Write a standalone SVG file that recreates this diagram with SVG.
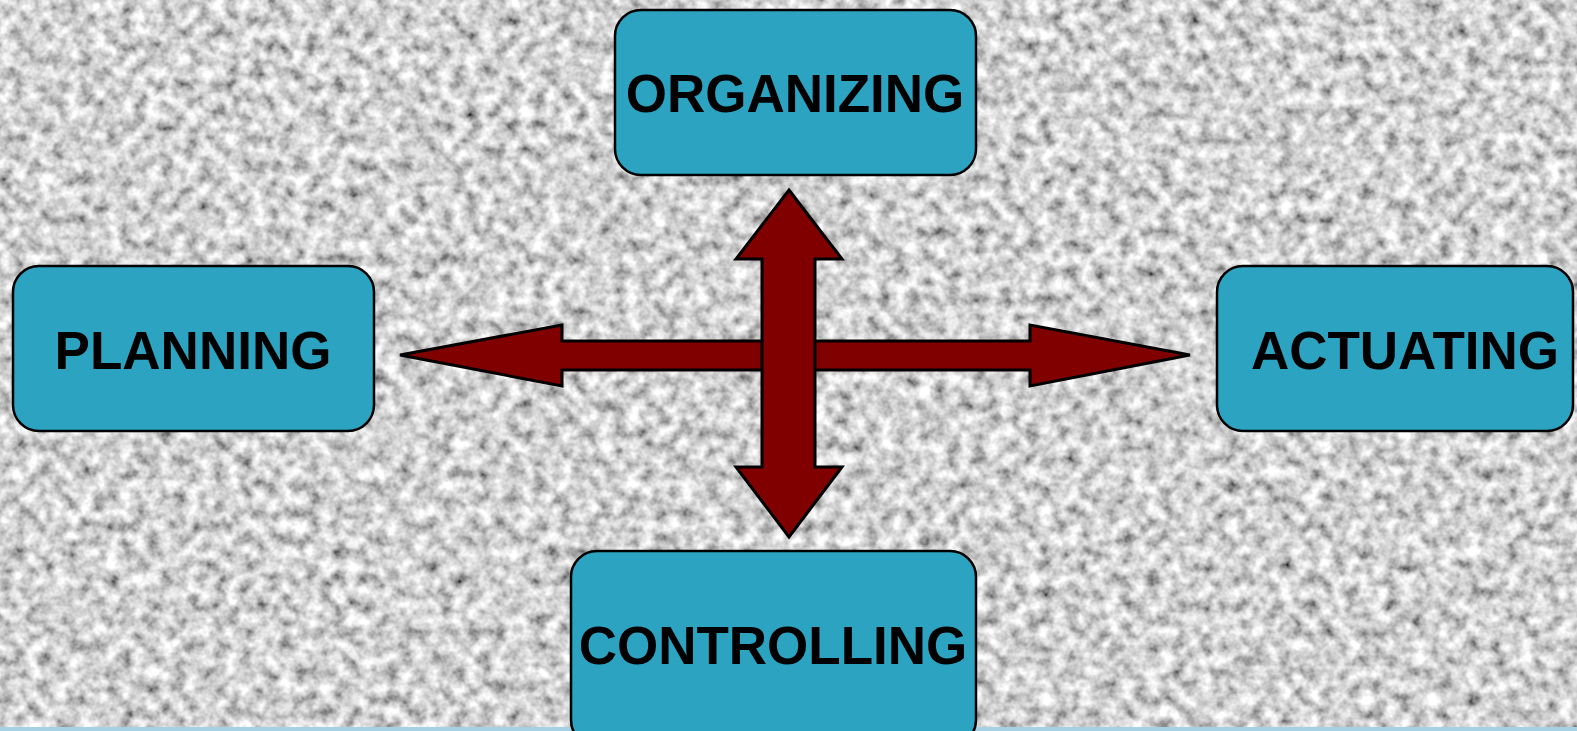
<svg xmlns="http://www.w3.org/2000/svg" width="1577" height="731" viewBox="0 0 1577 731">
<defs>
<filter id="granite" x="0" y="0" width="100%" height="100%" filterUnits="userSpaceOnUse">
<feTurbulence type="fractalNoise" baseFrequency="0.075" numOctaves="3" seed="7" result="n"/>
<feColorMatrix in="n" type="matrix" values="1.4 0 0 0 -0.06  1.4 0 0 0 -0.06  1.4 0 0 0 -0.06  0 0 0 0 1"/>
</filter>
<style>
.box{fill:#2ba3c1;stroke:#000;stroke-width:2.5}
.lbl{font-family:"Liberation Sans",Arial,sans-serif;font-weight:bold;font-size:53px;fill:#000;text-anchor:middle}
.arr{fill:#800000;stroke:#000;stroke-width:3;stroke-linejoin:miter}
</style>
</defs>
<rect x="0" y="0" width="1577" height="731" fill="#a0a0a0"/>
<rect x="0" y="0" width="1577" height="731" filter="url(#granite)"/>
<rect x="0" y="727" width="1577" height="4" fill="#a6d0e4"/>
<g id="connectors">
<path class="arr" d="M400,355 L562,325 L562,341 L1030,341 L1030,325 L1190,355 L1030,386 L1030,370 L562,370 L562,386 Z"/>
<path class="arr" d="M789,190 L842,259 L815,259 L815,467 L842,467 L789,537 L736,467 L762,467 L762,259 L736,259 Z"/>
</g>
<g id="organizing">
<rect class="box" x="615" y="10" width="361" height="165" rx="26"/>
<text class="lbl" x="795" y="112">ORGANIZING</text>
</g>
<g id="planning">
<rect class="box" x="13" y="266" width="361" height="165" rx="26"/>
<text class="lbl" x="193" y="369">PLANNING</text>
</g>
<g id="actuating">
<rect class="box" x="1217" y="266" width="356" height="165" rx="26"/>
<text class="lbl" x="1405" y="369">ACTUATING</text>
</g>
<g id="controlling">
<rect class="box" x="571" y="551" width="405" height="195" rx="26"/>
<text class="lbl" x="773" y="664">CONTROLLING</text>
</g>
</svg>
